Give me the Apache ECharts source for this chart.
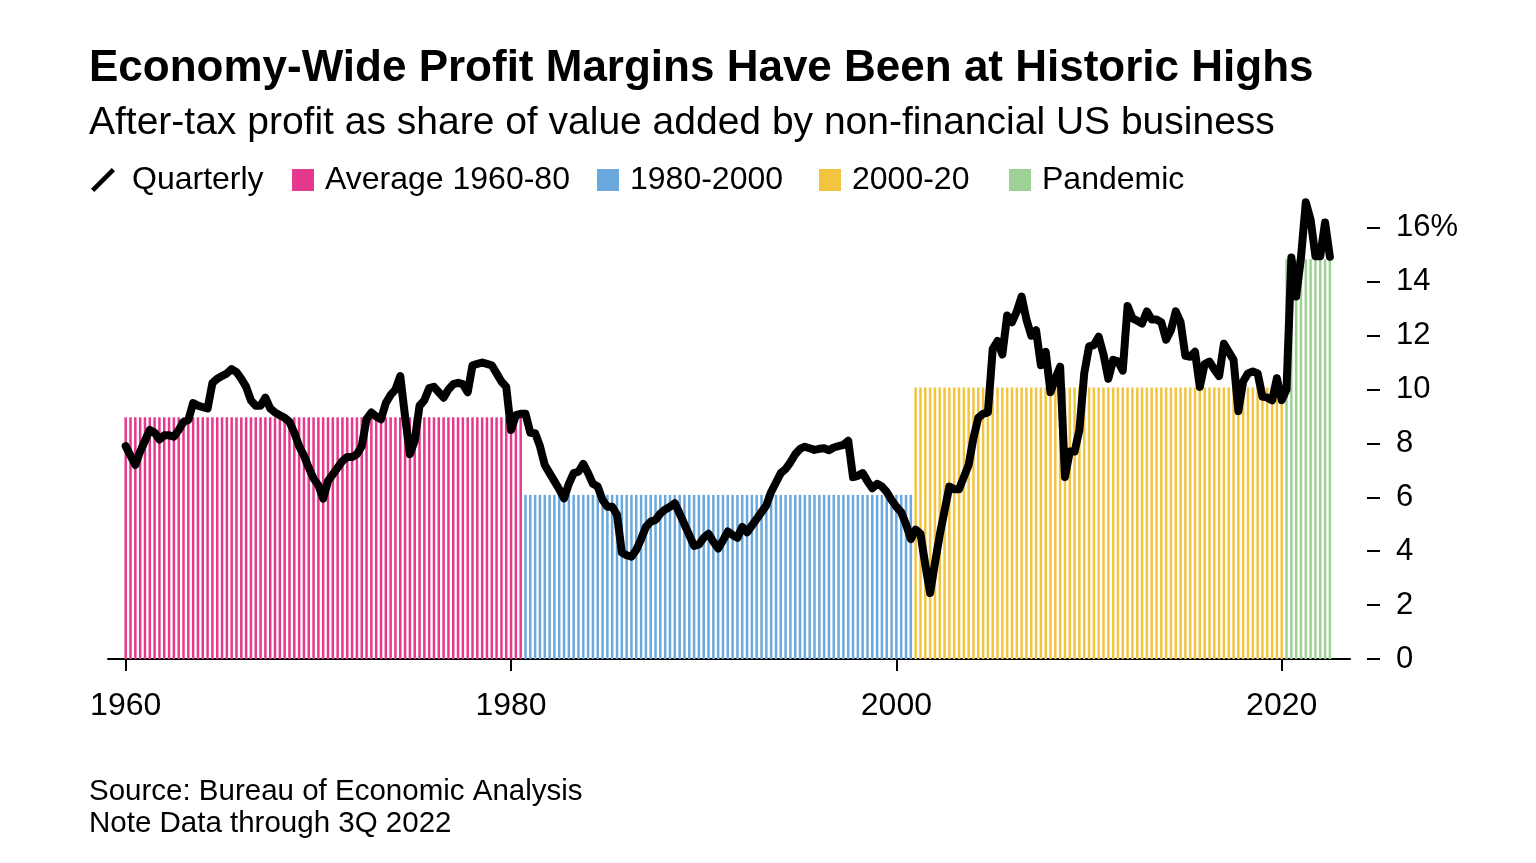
<!DOCTYPE html>
<html><head><meta charset="utf-8">
<script src="https://cdn.jsdelivr.net/npm/echarts@6/dist/echarts.min.js"></script>
<style>html,body{margin:0;padding:0;background:#fff}#chart{width:1536px;height:863px}</style>
</head><body><div id="chart"></div>
<script>
// ---- data ----
const startYear = 1960; // first quarter = 1960Q1, last = 2022Q3
const quarterly = [
  7.9, 7.55, 7.2, 7.7, 8.1, 8.5, 8.4, 8.15, 8.3, 8.3,
  8.25, 8.5, 8.8, 8.87, 9.5, 9.4, 9.35, 9.3, 10.24, 10.4,
  10.5, 10.6, 10.76, 10.65, 10.4, 10.1, 9.6, 9.4, 9.4, 9.7,
  9.3, 9.15, 9.05, 8.95, 8.8, 8.4, 7.9, 7.55, 7.1, 6.7,
  6.45, 5.95, 6.6, 6.85, 7.1, 7.35, 7.5, 7.5, 7.6, 7.9,
  8.9, 9.15, 9.0, 8.9, 9.5, 9.8, 10.0, 10.5, 9.0, 7.6,
  8.1, 9.4, 9.6, 10.05, 10.1, 9.9, 9.7, 10.0, 10.2, 10.25,
  10.2, 9.9, 10.9, 10.95, 11.0, 10.95, 10.9, 10.6, 10.3, 10.1,
  8.5, 9.05, 9.1, 9.1, 8.4, 8.38, 7.9, 7.2, 6.9, 6.6,
  6.3, 5.96, 6.5, 6.9, 6.95, 7.24, 6.9, 6.5, 6.4, 5.9,
  5.65, 5.65, 5.35, 3.95, 3.85, 3.8, 4.05, 4.45, 4.9, 5.1,
  5.16, 5.4, 5.55, 5.65, 5.78, 5.4, 5.0, 4.6, 4.2, 4.25,
  4.5, 4.65, 4.35, 4.1, 4.4, 4.73, 4.6, 4.5, 4.9, 4.7,
  4.95, 5.2, 5.45, 5.7, 6.2, 6.55, 6.9, 7.05, 7.3, 7.6,
  7.8, 7.88, 7.82, 7.76, 7.8, 7.82, 7.75, 7.85, 7.9, 7.95,
  8.1, 6.75, 6.8, 6.9, 6.6, 6.34, 6.5, 6.4, 6.2, 5.9,
  5.65, 5.45, 5.0, 4.45, 4.8, 4.65, 3.5, 2.45, 3.55, 4.6,
  5.5, 6.4, 6.3, 6.3, 6.75, 7.2, 8.2, 8.95, 9.1, 9.15,
  11.5, 11.8, 11.3, 12.75, 12.5, 12.9, 13.45, 12.6, 12.0, 12.2,
  10.9, 11.4, 9.9, 10.4, 10.85, 6.75, 7.7, 7.7, 8.5, 10.6,
  11.6, 11.65, 11.96, 11.3, 10.4, 11.1, 11.05, 10.7, 13.1, 12.65,
  12.55, 12.45, 12.9, 12.6, 12.6, 12.5, 11.85, 12.2, 12.9, 12.5,
  11.25, 11.22, 11.4, 10.1, 10.95, 11.04, 10.75, 10.5, 11.7, 11.4,
  11.1, 9.2, 10.3, 10.6, 10.67, 10.6, 9.74, 9.7, 9.6, 10.42,
  9.61, 10.0, 14.9, 13.45, 14.9, 16.95, 16.3, 14.95, 14.95, 16.2, 14.93
];
const periodNames = ['Average 1960-80', '1980-2000', '2000-20', 'Pandemic'];
const periodFirstQuarter = [0, 83, 164, 241];
const periodLastQuarter = [82, 163, 240, 250];
const periodAverages = [8.97, 6.09, 10.08, 14.84];
const xTickYears = [1960, 1980, 2000, 2020];
const yTickValues = [0, 2, 4, 6, 8, 10, 12, 14, 16];

// ---- styles / layout ----
const periodColors = ['#e6388c', '#6aa8dd', '#f3c43f', '#9dd195'];
const legendLefts = [91, 292, 597, 819, 1009];
const FONT = '"Liberation Sans", Arial, Helvetica, sans-serif';

const qx = i => startYear + i / 4;
const lineData = quarterly.map((v, i) => [qx(i), v]);

const barSeries = periodNames.map((name, p) => {
  const d = [];
  for (let i = periodFirstQuarter[p]; i <= periodLastQuarter[p]; i++) d.push([qx(i), periodAverages[p]]);
  return {
    name, type: 'bar', data: d, barWidth: 2.5, barGap: '-100%',
    itemStyle: { color: periodColors[p] }, z: 2, silent: true
  };
});

const legendBase = {
  top: 164, padding: 0, itemWidth: 34, itemHeight: 24, symbolKeepAspect: true, selectedMode: false,
  textStyle: { fontFamily: FONT, fontSize: 32, color: '#000' }
};
const legends = [
  Object.assign({}, legendBase, { left: legendLefts[0], data: [
    { name: 'Quarterly', icon: 'path://M1,20 L20,1 L23,4 L4,23 Z', itemStyle: { color: '#000' },
      textStyle: { padding: [0, 0, 0, 7] } }] }),
  ...periodNames.map((n, p) => Object.assign({}, legendBase, { left: legendLefts[p + 1], data: [
    { name: n, icon: 'path://M0,1 L22,1 L22,23 L0,23 Z M0,0 L0,0 M0,24 L0,24', itemStyle: { color: periodColors[p] } }] }))
];

const chart = echarts.init(document.getElementById('chart'), null, { renderer: 'canvas' });
chart.setOption({
  animation: false,
  backgroundColor: '#fff',
  textStyle: { fontFamily: FONT },
  title: [
    { text: 'Economy-Wide Profit Margins Have Been at Historic Highs', left: 89, top: 47, padding: 0,
      textStyle: { fontFamily: FONT, fontSize: 44, fontWeight: 'bold', color: '#000', lineHeight: 44 } },
    { text: 'After-tax profit as share of value added by non-financial US business', left: 89, top: 104, padding: 0,
      textStyle: { fontFamily: FONT, fontSize: 39, fontWeight: 'normal', color: '#000', lineHeight: 39 } },
    { text: 'Source: Bureau of Economic Analysis', left: 89, top: 777, padding: 0,
      textStyle: { fontFamily: FONT, fontSize: 29.5, fontWeight: 'normal', color: '#000', lineHeight: 29.5 } },
    { text: 'Note Data through 3Q 2022', left: 89, top: 809, padding: 0,
      textStyle: { fontFamily: FONT, fontSize: 29.5, fontWeight: 'normal', color: '#000', lineHeight: 29.5 } }
  ],
  legend: legends,
  grid: { left: 108, right: 186, top: 174, bottom: 204, containLabel: false },
  xAxis: {
    type: 'value', min: 1959.081, max: 2023.544,
    splitLine: { show: false },
    axisLine: { show: true, lineStyle: { color: '#000', width: 2 } },
    axisTick: { show: true, customValues: xTickYears, length: 12, lineStyle: { color: '#000', width: 2 } },
    axisLabel: { customValues: xTickYears, fontFamily: FONT, fontSize: 32, color: '#000', margin: 31, formatter: v => String(v) }
  },
  yAxis: {
    type: 'value', position: 'right', offset: 17, min: 0, max: 18, interval: 2,
    splitLine: { show: false },
    axisLine: { show: false },
    axisTick: { show: true, customValues: yTickValues, length: 13, lineStyle: { color: '#000', width: 2 } },
    axisLabel: { customValues: yTickValues, fontFamily: FONT, fontSize: 31, color: '#000', margin: 29,
      formatter: v => (v === 16 ? '16%' : String(v)) }
  },
  series: [
    ...barSeries,
    { name: 'Quarterly', type: 'line', data: lineData, showSymbol: false, symbol: 'none', z: 5, silent: true,
      lineStyle: { color: '#000', width: 8, join: 'round', cap: 'round' }, itemStyle: { color: '#000' } }
  ]
});
</script></body></html>
